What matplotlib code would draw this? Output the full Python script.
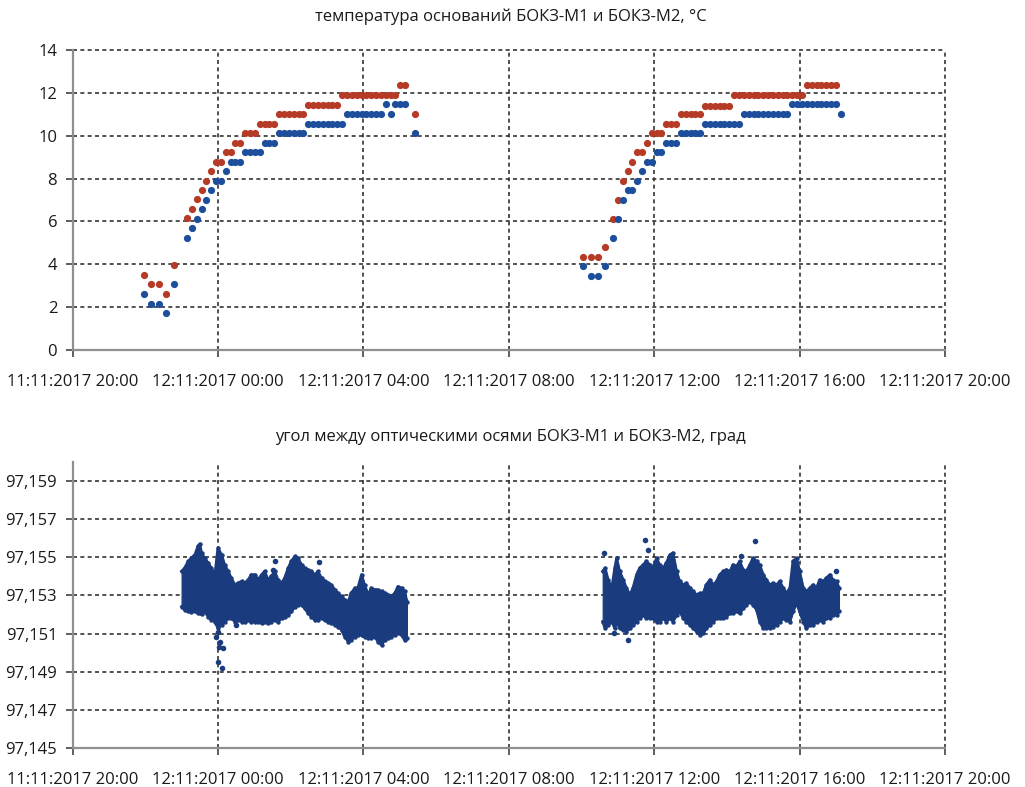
import matplotlib
matplotlib.use("Agg")
import matplotlib.pyplot as plt
import matplotlib.dates as mdates
from matplotlib.ticker import FixedLocator, FuncFormatter
from datetime import datetime, timedelta
import numpy as np

plt.rcParams['font.family'] = ['Open Sans', 'DejaVu Sans']

# ---------------------------------------------------------------------------
# Data: times are minutes relative to 12.11.2017 00:00
# ---------------------------------------------------------------------------
temp_minutes = [
    -122, -110, -97, -85, -73, -51, -43, -35, -27, -19, -11, -3, 5, 13, 21, 29,
    37, 45, 53, 61, 69, 77, 85, 93, 101, 109, 117, 125, 133, 141, 149, 157,
    165, 173, 181, 189, 197, 205, 213, 221, 229, 237, 245, 253, 261, 269, 277,
    285, 293, 301, 309, 325,
    603, 615, 628, 639, 652, 660, 668, 676, 684, 692, 700, 708, 716, 724, 732,
    740, 748, 756, 764, 772, 780, 788, 796, 804, 812, 820, 828, 836, 844, 852,
    860, 868, 876, 884, 892, 900, 908, 916, 924, 932, 940, 948, 956, 964, 972,
    980, 988, 996, 1004, 1012, 1020, 1028,
]

# БОКЗ-М1 base temperature, °C
temp_m1 = [
    3.48, 3.06, 3.06, 2.60, 3.95,
    6.14, 6.58, 7.03, 7.47, 7.90, 8.37,
    8.79, 8.79, 9.24, 9.24, 9.67, 9.67,
    10.14, 10.14, 10.14, 10.55, 10.55, 10.55, 10.55,
    11.01, 11.01, 11.01, 11.01, 11.01, 11.01,
    11.42, 11.42, 11.42, 11.42, 11.42, 11.42, 11.42,
    11.92, 11.92, 11.92, 11.92, 11.92, 11.92, 11.92, 11.92, 11.92, 11.92, 11.92, 11.92,
    12.37, 12.37, 11.01,
    4.33, 4.33, 4.33, 4.80,
    6.13, 6.98, 7.87, 8.36, 8.78, 9.25, 9.25, 9.67,
    10.13, 10.13, 10.13, 10.54, 10.54, 10.54,
    11.00, 11.00, 11.00, 11.00, 11.00,
    11.41, 11.41, 11.41, 11.41, 11.41, 11.41,
    11.90, 11.90, 11.90, 11.90, 11.90, 11.90, 11.90, 11.90, 11.90, 11.90,
    11.90, 11.90, 11.90, 11.90, 11.90,
    12.36, 12.36, 12.36, 12.36, 12.36, 12.36, 12.36, np.nan,
]

# БОКЗ-М2 base temperature, °C
temp_m2 = [
    2.60, 2.15, 2.15, 1.71, 3.06,
    5.24, 5.69, 6.13, 6.58, 7.00, 7.47, 7.90, 7.90, 8.37,
    8.79, 8.79, 8.79, 9.24, 9.24, 9.24, 9.24, 9.67, 9.67, 9.67,
    10.14, 10.14, 10.14, 10.14, 10.14, 10.14,
    10.55, 10.55, 10.55, 10.55, 10.55, 10.55, 10.55, 10.55,
    11.01, 11.01, 11.01, 11.01, 11.01, 11.01, 11.01, 11.01,
    11.48, 11.01, 11.48, 11.48, 11.48, 10.14,
    3.91, 3.45, 3.45, 3.91,
    5.24, 6.13, 6.98, 7.45, 7.45, 7.87, 8.36, 8.78, 8.78, 9.25, 9.25,
    9.67, 9.67, 9.67,
    10.13, 10.13, 10.13, 10.13, 10.13,
    10.54, 10.54, 10.54, 10.54, 10.54, 10.54, 10.54, 10.54,
    11.00, 11.00, 11.00, 11.00, 11.00, 11.00, 11.00, 11.00, 11.00, 11.00,
    11.47, 11.47, 11.47, 11.47, 11.47, 11.47, 11.47, 11.47, 11.47, 11.47,
    11.00,
]

# Angle between optical axes: spread (min / max) of the measurements, degrees
angle1_minutes = [
    -60, -55, -49, -44, -38, -33, -30, -27, -22, -16, -11, -5, 0, 6, 11, 17,
    22, 28, 33, 39, 44, 50, 55, 61, 66, 72, 77, 83, 88, 94, 99, 105, 110, 116,
    121, 127, 132, 138, 143, 149, 154, 160, 165, 171, 176, 182, 187, 193, 198,
    204, 209, 215, 220, 226, 231, 237, 242, 248, 253, 259, 264, 270, 275, 281,
    286, 292, 297, 303, 308, 312,
]
angle1_high = [
    97.15426, 97.15444, 97.15479, 97.15496, 97.15514, 97.15558, 97.15570,
    97.15523, 97.15496, 97.15470, 97.15444, 97.15409, 97.15549, 97.15514,
    97.15461, 97.15426, 97.15391, 97.15356, 97.15365, 97.15374, 97.15365,
    97.15382, 97.15409, 97.15409, 97.15382, 97.15409, 97.15426, 97.15382,
    97.15400, 97.15426, 97.15382, 97.15365, 97.15391, 97.15444, 97.15479,
    97.15505, 97.15496, 97.15461, 97.15444, 97.15435, 97.15426, 97.15409,
    97.15426, 97.15391, 97.15374, 97.15365, 97.15356, 97.15330, 97.15312,
    97.15295, 97.15277, 97.15268, 97.15312, 97.15339, 97.15339, 97.15409,
    97.15356, 97.15304, 97.15339, 97.15330, 97.15330, 97.15321, 97.15312,
    97.15304, 97.15295, 97.15312, 97.15347, 97.15339, 97.15321, 97.15268,
]
angle1_low = [
    97.15242, 97.15225, 97.15216, 97.15212, 97.15216, 97.15207, 97.15207,
    97.15202, 97.15216, 97.15189, 97.15172, 97.15163, 97.15128, 97.15146,
    97.15163, 97.15181, 97.15181, 97.15163, 97.15172, 97.15163, 97.15163,
    97.15172, 97.15163, 97.15163, 97.15163, 97.15154, 97.15163, 97.15154,
    97.15163, 97.15172, 97.15163, 97.15181, 97.15189, 97.15198, 97.15216,
    97.15242, 97.15251, 97.15251, 97.15233, 97.15207, 97.15189, 97.15172,
    97.15172, 97.15181, 97.15172, 97.15163, 97.15154, 97.15146, 97.15137,
    97.15119, 97.15084, 97.15058, 97.15067, 97.15084, 97.15093, 97.15093,
    97.15084, 97.15075, 97.15075, 97.15084, 97.15058, 97.15040, 97.15067,
    97.15075, 97.15084, 97.15093, 97.15102, 97.15093, 97.15067, 97.15075,
]

angle2_minutes = [
    635, 639, 644, 650, 655, 658, 663, 669, 674, 680, 685, 691, 696, 702, 707,
    713, 718, 724, 729, 735, 740, 746, 751, 757, 762, 768, 773, 779, 784, 790,
    795, 801, 806, 812, 817, 823, 828, 834, 839, 845, 850, 856, 861, 867, 872,
    878, 883, 889, 894, 900, 905, 911, 916, 922, 927, 933, 938, 944, 949, 955,
    960, 966, 971, 977, 982, 988, 993, 999, 1004, 1010, 1015, 1021, 1025,
]
angle2_high = [
    97.15426, 97.15444, 97.15382, 97.15339, 97.15444, 97.15496, 97.15426,
    97.15382, 97.15339, 97.15304, 97.15339, 97.15409, 97.15444, 97.15461,
    97.15479, 97.15461, 97.15444, 97.15496, 97.15461, 97.15444, 97.15470,
    97.15514, 97.15523, 97.15426, 97.15374, 97.15356, 97.15365, 97.15339,
    97.15321, 97.15304, 97.15312, 97.15312, 97.15356, 97.15382, 97.15356,
    97.15374, 97.15409, 97.15426, 97.15435, 97.15426, 97.15461, 97.15453,
    97.15479, 97.15435, 97.15426, 97.15461, 97.15496, 97.15479, 97.15461,
    97.15409, 97.15382, 97.15356, 97.15365, 97.15356, 97.15374, 97.15339,
    97.15312, 97.15339, 97.15479, 97.15496, 97.15426, 97.15339, 97.15321,
    97.15339, 97.15356, 97.15339, 97.15382, 97.15374, 97.15391, 97.15409,
    97.15382, 97.15374, 97.15339,
]
angle2_low = [
    97.15163, 97.15128, 97.15146, 97.15163, 97.15128, 97.15163, 97.15128,
    97.15119, 97.15111, 97.15128, 97.15146, 97.15163, 97.15181, 97.15198,
    97.15181, 97.15181, 97.15181, 97.15163, 97.15163, 97.15181, 97.15163,
    97.15181, 97.15163, 97.15198, 97.15216, 97.15181, 97.15163, 97.15146,
    97.15128, 97.15111, 97.15093, 97.15102, 97.15128, 97.15146, 97.15163,
    97.15181, 97.15181, 97.15181, 97.15189, 97.15207, 97.15207, 97.15216,
    97.15207, 97.15233, 97.15251, 97.15268, 97.15251, 97.15225, 97.15163,
    97.15128, 97.15128, 97.15128, 97.15137, 97.15146, 97.15163, 97.15181,
    97.15172, 97.15163, 97.15216, 97.15260, 97.15216, 97.15163, 97.15128,
    97.15146, 97.15146, 97.15163, 97.15172, 97.15163, 97.15181, 97.15181,
    97.15198, 97.15198, 97.15216,
]

# Isolated measurements outside the main spread
angle_outlier_minutes = [94, 91, 167, 30, 0, -3, 3, 2, 8, 0, 6,
                         637, 677, 705, 709, 864, 886, 653, 1020]
angle_outlier_values = [97.15479, 97.15435, 97.15475, 97.15146, 97.15111,
                        97.15084, 97.15058, 97.15032, 97.15026, 97.14953,
                        97.14918, 97.15523, 97.15067, 97.15593, 97.15540,
                        97.15505, 97.15584, 97.15102, 97.15426]

title_temp = "температура оснований БОКЗ-М1 и БОКЗ-М2, °C"
title_angle = "угол между оптическими осями БОКЗ-М1 и БОКЗ-М2, град"

# ---------------------------------------------------------------------------
BASE = datetime(2017, 11, 12)


def to_time(minutes):
    return [BASE + timedelta(minutes=int(m)) for m in minutes]


COLOR_M1 = "#b63b26"
COLOR_M2 = "#1d4e9c"
COLOR_ANGLE = "#1a3b7e"
GRID_COLOR = "#333333"
SPINE_COLOR = "#8f8f8f"

x_start = datetime(2017, 11, 11, 20, 0)
x_end = datetime(2017, 11, 12, 20, 0)
x_ticks = [x_start + timedelta(hours=4 * i) for i in range(7)]

W, H = 1025, 787
fig = plt.figure(figsize=(W / 100, H / 100), dpi=100)
ax1 = fig.add_axes([72.5 / W, 1 - 350 / H, 872.5 / W, 300 / H])
ax2 = fig.add_axes([72.5 / W, 1 - 748 / H, 872.5 / W, 286 / H])


def style_axes(ax, label_pad_x):
    ax.set_xlim(mdates.date2num(x_start), mdates.date2num(x_end))
    ax.xaxis.set_major_locator(FixedLocator(mdates.date2num(x_ticks)))
    ax.xaxis.set_major_formatter(mdates.DateFormatter("%d:%m:%Y %H:%M"))
    ax.set_axisbelow(True)
    ax.grid(True, color=GRID_COLOR, linestyle=(0, (2.4, 2.0)), linewidth=1.2)
    for gl in ax.get_xgridlines() + ax.get_ygridlines():
        gl.set_clip_on(False)
    for side in ("top", "right"):
        ax.spines[side].set_visible(False)
    for side in ("left", "bottom"):
        ax.spines[side].set_color(SPINE_COLOR)
        ax.spines[side].set_linewidth(1.6)
    ax.tick_params(axis="x", direction="out", length=5, width=1.1,
                   color=GRID_COLOR, labelsize=12, pad=label_pad_x,
                   labelcolor="#1a1a1a")
    ax.tick_params(axis="y", direction="out", length=5, width=1.1,
                   color=GRID_COLOR, labelsize=12, pad=6,
                   labelcolor="#1a1a1a")


# Temperature panel
style_axes(ax1, 12)
t_temp = to_time(temp_minutes)
ax1.plot(t_temp, temp_m1, "o", ms=5.2, color=COLOR_M1, mec="none", zorder=3)
ax1.plot(t_temp, temp_m2, "o", ms=5.2, color=COLOR_M2, mec="none", zorder=3)
ax1.set_ylim(0, 14)
ax1.yaxis.set_major_locator(FixedLocator(range(0, 15, 2)))

# Angle panel
style_axes(ax2, 12)
for mins, lo, hi in ((angle1_minutes, angle1_low, angle1_high),
                     (angle2_minutes, angle2_low, angle2_high)):
    tt = to_time(mins)
    ax2.fill_between(tt, lo, hi, facecolor=COLOR_ANGLE, edgecolor=COLOR_ANGLE,
                     lw=0.8, zorder=3)
    ax2.plot(tt, hi, "-o", ms=3.2, lw=2.0, color=COLOR_ANGLE, mec="none", zorder=3)
    ax2.plot(tt, lo, "-o", ms=3.2, lw=2.0, color=COLOR_ANGLE, mec="none", zorder=3)
ax2.plot(to_time(angle_outlier_minutes), angle_outlier_values, "o", ms=4,
         color=COLOR_ANGLE, mec="none", zorder=3)
ax2.set_ylim(97.145, 97.160)
ax2.yaxis.set_major_locator(FixedLocator([97.145 + 0.002 * i for i in range(8)]))
ax2.yaxis.set_major_formatter(
    FuncFormatter(lambda v, p: f"{v:.3f}".replace(".", ",")))

fig.text(511 / W, 1 - 17 / H, title_temp, ha="center", va="center",
         fontsize=12, color="#1a1a1a")
fig.text(510 / W, 1 - 437 / H, title_angle, ha="center", va="center",
         fontsize=12, color="#1a1a1a")

fig.savefig("out.png", dpi=100, facecolor="white")
